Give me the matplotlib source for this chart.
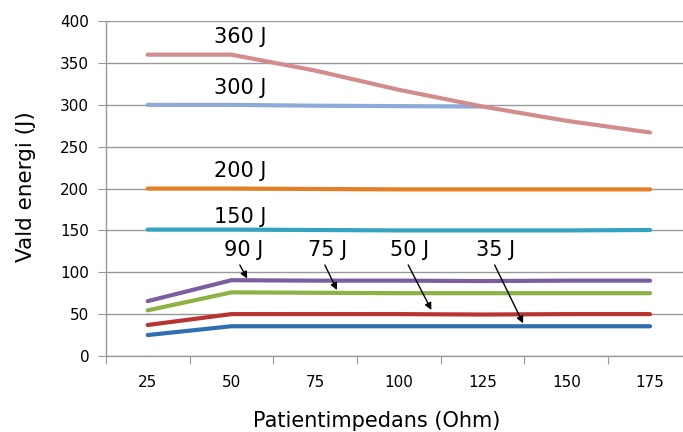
import matplotlib.pyplot as plt
import numpy as np

plt.rcParams['font.family'] = ['DejaVu Sans']

# Patientimpedans (Ohm) categories
impedance = [25, 50, 75, 100, 125, 150, 175]

# delivered energy per selected energy
e360 = [360, 360, 341, 318, 298, 281, 267]
e300 = [300, 300, 299, 298.5, 298, np.nan, np.nan]
e200 = [200, 200, 199.5, 199, 199, 199, 199]
e150 = [151, 151, 150.5, 150, 150, 150, 150.5]
e90 = [65.5, 90.5, 90, 90, 89.5, 90, 90]
e75 = [54.5, 76, 75.5, 75, 75, 75, 75]
e50 = [37, 50, 50, 50, 49.5, 50, 50]
e35 = [25, 35.5, 35.5, 35.5, 35.5, 35.5, 35.5]

series = [
    (e35, '#2f6fb0'),
    (e50, '#b83431'),
    (e75, '#8db144'),
    (e90, '#7b5da0'),
    (e150, '#33a3bf'),
    (e200, '#e47f26'),
    (e300, '#8eaad8'),
    (e360, '#d28c8c'),
]

# labels: text, x, y
labels = [('360 J', 52.5, 381), ('300 J', 52.5, 320), ('200 J', 52.5, 221),
          ('150 J', 52.5, 166), ('90 J', 53.7, 126.5), ('75 J', 78.8, 126.5),
          ('50 J', 103.1, 126.5), ('35 J', 128.8, 126.5)]
# arrows: tail, head
arrows = [((52.5, 108.7), (54.7, 92.5)), ((77.9, 108.7), (81.5, 78.8)),
          ((102.8, 108.7), (109.7, 55)), ((128.6, 108.7), (137.1, 39))]

fig = plt.figure(figsize=(6.83, 4.32), dpi=100)
ax = fig.add_axes([0.155, 0.176, 0.858, 0.775])

for vals, col in series:
    ax.plot(impedance, vals, color=col, lw=3, solid_capstyle='round', zorder=3)

ax.set_xlim(12.5, 187.5)
ax.set_ylim(0, 400)
ax.set_yticks(np.arange(0, 401, 50))
ax.set_xticks(np.arange(12.5, 188, 25))
ax.set_xticklabels([])
ax.set_xticks(impedance, minor=True)
ax.set_xticklabels([str(v) for v in impedance], minor=True)
ax.tick_params(axis='x', which='major', length=6, color='#999999', direction='out')
ax.tick_params(axis='x', which='minor', length=0, pad=14, labelsize=11)
ax.tick_params(axis='y', length=6, color='#999999', pad=6, labelsize=11)
ax.grid(axis='y', color='#999999', lw=1, zorder=0)
ax.set_axisbelow(True)
for s in ['top', 'right']:
    ax.spines[s].set_visible(False)
for s in ['left', 'bottom']:
    ax.spines[s].set_color('#999999')
    ax.spines[s].set_linewidth(1)

ax.set_xlabel('Patientimpedans (Ohm)', fontsize=15)
ax.xaxis.set_label_coords(0.4625, -0.165)
ax.set_ylabel('Vald energi (J)', fontsize=15.5)
ax.yaxis.set_label_coords(-0.12, 0.505)

for txt, x, y in labels:
    ax.text(x, y, txt, fontsize=15, ha='center', va='center')

arr = dict(arrowstyle='-|>', color='black', lw=1, mutation_scale=10, shrinkA=0, shrinkB=0)
for tail, head in arrows:
    ax.annotate('', xy=head, xytext=tail, arrowprops=arr)

fig.savefig('out.png', dpi=100)
